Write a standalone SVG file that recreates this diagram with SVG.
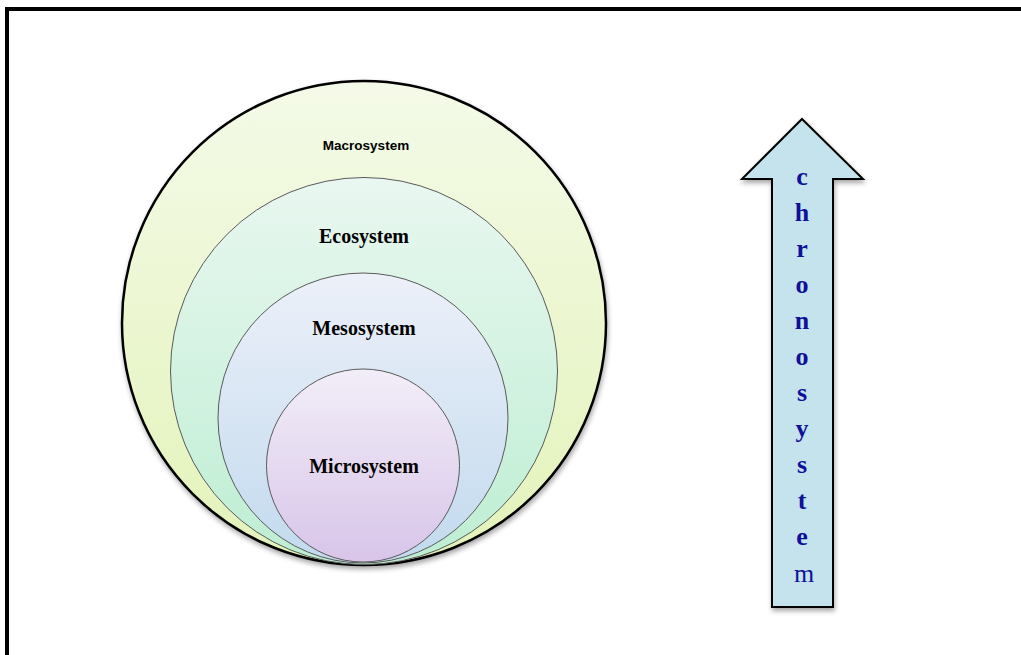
<svg xmlns="http://www.w3.org/2000/svg" width="1021" height="655" viewBox="0 0 1021 655">
  <style>
    .inner { stroke: #5a5a5a; stroke-width: 1; }
    .serifLbl { font-family: "Liberation Serif", "Times New Roman", serif; font-weight: bold; font-size: 20px; fill: #000; text-anchor: middle; }
    .sansLbl { font-family: "Liberation Sans", Arial, sans-serif; font-weight: bold; font-size: 13.5px; fill: #000; text-anchor: middle; }
    .chrono { font-family: "Liberation Serif", "Times New Roman", serif; font-weight: bold; font-size: 26px; fill: #101099; text-anchor: middle; }
    .chronoReg { font-weight: normal; }
  </style>
  <defs>
    <linearGradient id="gMacro" x1="0" y1="0" x2="0" y2="1">
      <stop offset="0" stop-color="#f4fae8"/>
      <stop offset="1" stop-color="#e3f3b9"/>
    </linearGradient>
    <linearGradient id="gEco" x1="0" y1="0" x2="0" y2="1">
      <stop offset="0" stop-color="#e9f7f0"/>
      <stop offset="1" stop-color="#bdeed2"/>
    </linearGradient>
    <linearGradient id="gMeso" x1="0" y1="0" x2="0" y2="1">
      <stop offset="0" stop-color="#ecf0f9"/>
      <stop offset="1" stop-color="#c2daee"/>
    </linearGradient>
    <linearGradient id="gMicro" x1="0" y1="0" x2="0" y2="1">
      <stop offset="0" stop-color="#f2eef8"/>
      <stop offset="1" stop-color="#d8c5e9"/>
    </linearGradient>
    <filter id="shadow" x="-10%" y="-10%" width="130%" height="130%">
      <feDropShadow dx="1" dy="3" stdDeviation="2.5" flood-color="#000" flood-opacity="0.35"/>
    </filter>
  </defs>

  <rect width="1021" height="655" fill="#ffffff"/>
  <g id="frame">
    <path d="M7,655 L7,9 L1021,9" fill="none" stroke="#000" stroke-width="4"/>
  </g>

  <g id="macrosystem">
    <circle cx="364" cy="323" r="242" fill="url(#gMacro)" stroke="#000" stroke-width="2.5" filter="url(#shadow)"/>
    <text class="sansLbl" x="366" y="150">Macrosystem</text>
  </g>
  <g id="ecosystem">
    <circle class="inner" cx="364" cy="371" r="193.5" fill="url(#gEco)"/>
    <text class="serifLbl" x="364" y="243">Ecosystem</text>
  </g>
  <g id="mesosystem">
    <circle class="inner" cx="363" cy="418" r="145" fill="url(#gMeso)"/>
    <text class="serifLbl" x="364" y="335">Mesosystem</text>
  </g>
  <g id="microsystem">
    <circle class="inner" cx="363" cy="465.5" r="96.5" fill="url(#gMicro)"/>
    <text class="serifLbl" x="364" y="473">Microsystem</text>
  </g>

  <g id="chronosystem">
    <polygon points="802,119 863,179 833,179 833,607 772,607 772,179 742,179" fill="#c4e3ec" stroke="#000" stroke-width="2" stroke-linejoin="miter" filter="url(#shadow)"/>
    <text class="chrono" x="802" y="185">c</text>
    <text class="chrono" x="802" y="221">h</text>
    <text class="chrono" x="802" y="257">r</text>
    <text class="chrono" x="802" y="293">o</text>
    <text class="chrono" x="802" y="329">n</text>
    <text class="chrono" x="802" y="365">o</text>
    <text class="chrono" x="802" y="401">s</text>
    <text class="chrono" x="802" y="437">y</text>
    <text class="chrono" x="802" y="473">s</text>
    <text class="chrono" x="802" y="509">t</text>
    <text class="chrono" x="802" y="545">e</text>
    <text class="chrono chronoReg" x="804" y="582">m</text>
  </g>

  <g id="connectors"/>
</svg>
